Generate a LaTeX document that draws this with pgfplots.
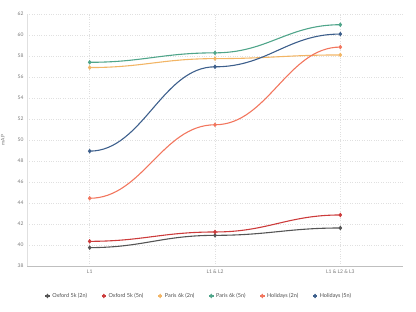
\documentclass[border=0pt]{standalone}
\usepackage{pgfplots}
\pgfplotsset{compat=1.18}
\usepackage{fontspec}
\setmainfont{Lato}
\definecolor{cOx2}{HTML}{555555}
\definecolor{cOx5}{HTML}{CC3B3B}
\definecolor{cPa2}{HTML}{F2B565}
\definecolor{cPa5}{HTML}{4FA58A}
\definecolor{cHo2}{HTML}{F2765E}
\definecolor{cHo5}{HTML}{3D5F8C}
\definecolor{tickc}{HTML}{777777}
\makeatletter
\newif\ifhb@first
\def\hbfactor{0.42}
\def\hb@point#1{%
    \pgf@process{#1}%
    \edef\hb@curx{\the\pgf@x}\edef\hb@cury{\the\pgf@y}%
    \ifhb@first
      \pgfpathmoveto{\pgfqpoint{\hb@curx}{\hb@cury}}%
      \global\hb@firstfalse
    \else
      \pgf@xa=\hb@curx\relax \advance\pgf@xa by -\hb@lastx\relax
      \pgf@xa=\hbfactor\pgf@xa
      \pgf@xb=\hb@lastx\relax \advance\pgf@xb by \pgf@xa
      \pgf@xc=\hb@curx\relax \advance\pgf@xc by -\pgf@xa
      \edef\hb@cax{\the\pgf@xb}\edef\hb@cbx{\the\pgf@xc}%
      \pgfpathcurveto{\pgfqpoint{\hb@cax}{\hb@lasty}}{\pgfqpoint{\hb@cbx}{\hb@cury}}{\pgfqpoint{\hb@curx}{\hb@cury}}%
    \fi
    \global\let\hb@lastx\hb@curx \global\let\hb@lasty\hb@cury
}
\pgfdeclareplothandler{\pgfplothandlerhbezier}{}{%
  start={\global\hb@firsttrue},
  point macro=\hb@point,
  jump={\global\hb@firsttrue},
  end={}
}
\tikzset{hbez/.code={\let\tikz@plot@handler=\pgfplothandlerhbezier}}
\makeatother
\begin{document}
\begin{tikzpicture}[x=1bp,y=1bp]
\useasboundingbox (0,0) rectangle (416,312);
\begin{axis}[
  at={(27bp,46bp)}, anchor=south west,
  scale only axis, width=376bp, height=252bp,
  xmin=-0.5, xmax=2.5, ymin=38, ymax=62,
  xtick={0,1,2}, xticklabels={L1, L1 \& L2, L1 \& L2 \& L3},
  ytick={38,40,...,62},
  axis x line*=bottom, axis y line*=left,
  x axis line style={draw=black!25, line width=0.8pt},
  y axis line style={draw=black!12, line width=0.5pt},
  tick style={draw=none},
  grid=both, grid style={draw=black!12, dotted, line width=0.4pt},
  ticklabel style={font=\fontsize{5}{6}\selectfont, text=tickc},
  /pgf/number format/assume math mode=true,
  ylabel={mAP}, ylabel style={font=\fontsize{5}{6}\selectfont, text=tickc, at={(axis description cs:-0.05,0.5)}},
  legend columns=6,
  legend style={at={(0.457,-0.119)}, anchor=center, draw=none, fill=none,
    font=\fontsize{5.5}{6.5}\selectfont, text=black!70,
    /tikz/every even column/.append style={column sep=12bp}},
  legend image code/.code={\draw[mark repeat=2,mark phase=2] plot coordinates {(0cm,0cm) (0.08cm,0cm) (0.16cm,0cm)};},
  every axis plot/.append style={hbez, line width=1.1pt, mark=diamond*, mark size=1.5pt},
]
\addplot[cOx2, mark options={fill=cOx2}] coordinates {(0,39.75) (1,40.92) (2,41.62)};
\addlegendentry{Oxford 5k (2n)}
\addplot[cOx5, mark options={fill=cOx5}] coordinates {(0,40.35) (1,41.24) (2,42.86)};
\addlegendentry{Oxford 5k (5n)}
\addplot[cPa2, mark options={fill=cPa2}] coordinates {(0,56.9) (1,57.75) (2,58.1)};
\addlegendentry{Paris 6k (2n)}
\addplot[cPa5, mark options={fill=cPa5}] coordinates {(0,57.4) (1,58.3) (2,60.98)};
\addlegendentry{Paris 6k (5n)}
\addplot[cHo2, mark options={fill=cHo2}] coordinates {(0,44.45) (1,51.45) (2,58.85)};
\addlegendentry{Holidays (2n)}
\addplot[cHo5, mark options={fill=cHo5}] coordinates {(0,48.94) (1,56.97) (2,60.09)};
\addlegendentry{Holidays (5n)}
\end{axis}
\end{tikzpicture}
\end{document}
